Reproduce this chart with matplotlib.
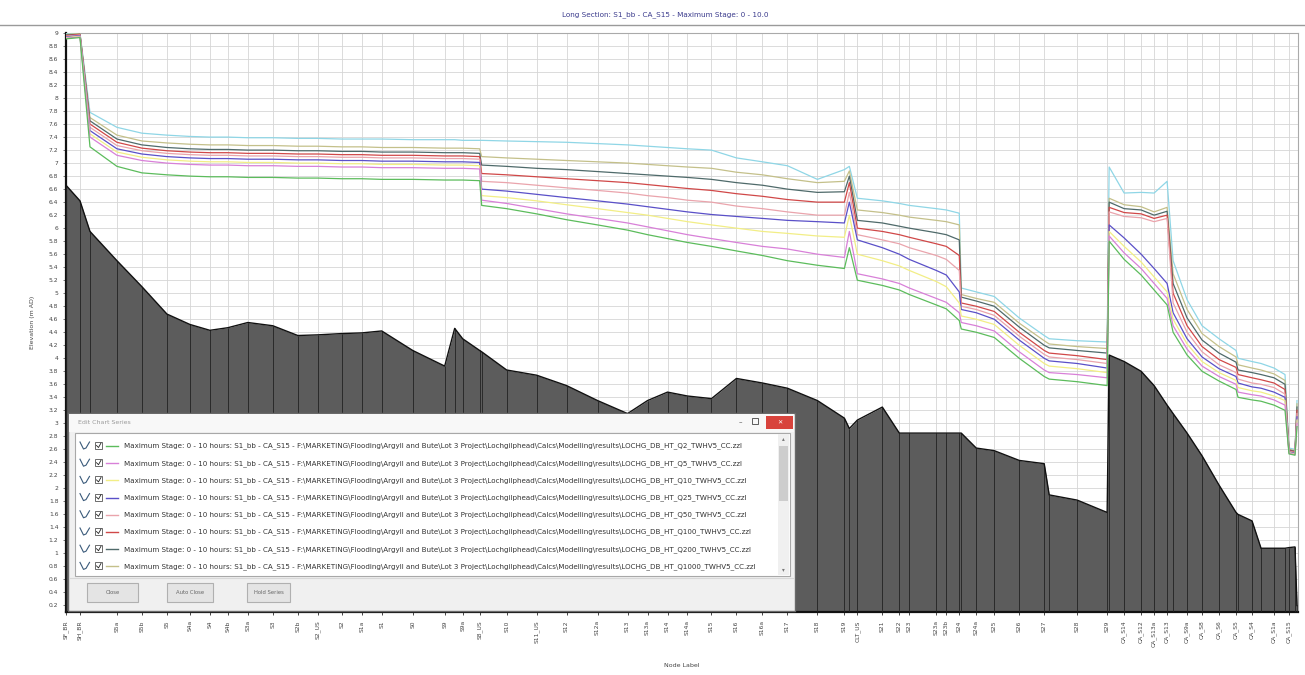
import matplotlib
matplotlib.use('Agg')
import matplotlib.pyplot as plt
from matplotlib.patches import Rectangle
from matplotlib.ticker import MultipleLocator, FuncFormatter

# ---------------- data ----------------
chainage = [0, 28, 48, 102, 152, 202, 248, 288, 324, 364, 414, 464, 504, 552, 592, 632, 694, 758, 778, 794,
            828, 832, 882, 942, 1002, 1064, 1124, 1164, 1204, 1244, 1292, 1342, 1394, 1444, 1504, 1558, 1568, 1584,
            1634, 1668, 1688, 1742, 1762, 1788, 1792, 1822, 1858, 1908, 1958, 1968, 2024, 2084, 2088, 2118, 2152,
            2178, 2204, 2216, 2244, 2274, 2308, 2342, 2346, 2374, 2392, 2418, 2440, 2448, 2460, 2464]

node_labels = ['SF_BR', 'SH_BR', '', 'S5a', 'S5b', 'S5', 'S4a', 'S4', 'S4b', 'S3a', 'S3', 'S2b', 'S2_US', 'S2',
               'S1a', 'S1', 'S0', 'S9', '', 'S9a', 'S8_US', '', 'S10', 'S11_US', 'S12', 'S12a', 'S13', 'S13a',
               'S14', 'S14a', 'S15', 'S16', 'S16a', 'S17', 'S18', 'S19', '', 'CLT_US', 'S21', 'S22', 'S23',
               'S23a', 'S23b', 'S24', '', 'S24a', 'S25', 'S26', 'S27', '', 'S28', 'S29', '', 'CA_S14', 'CA_S12',
               'CA_S13a', 'CA_S13', '', 'CA_S9a', 'CA_S8', 'CA_S6', 'CA_S5', '', 'CA_S4', '', 'CA_S1a', '',
               'CA_S15', '', '']

ground = [6.66, 6.42, 5.95, 5.5, 5.1, 4.68, 4.52, 4.43, 4.47, 4.55, 4.5, 4.35, 4.36, 4.38, 4.39, 4.42, 4.12,
          3.88, 4.46, 4.3, 4.12, 4.1, 3.82, 3.74, 3.58, 3.35, 3.15, 3.35, 3.48, 3.42, 3.38, 3.69, 3.62, 3.54,
          3.35, 3.08, 2.92, 3.05, 3.25, 2.85, 2.85, 2.85, 2.85, 2.85, 2.85, 2.62, 2.58, 2.43, 2.38, 1.9, 1.82,
          1.63, 4.05, 3.95, 3.8, 3.58, 3.28, 3.15, 2.85, 2.5, 2.05, 1.63, 1.6, 1.5, 1.08, 1.08, 1.08, 1.09,
          1.1, 0.2]

stage_cyan = [8.99, 9.0, 7.78, 7.55, 7.46, 7.43, 7.41, 7.40, 7.40, 7.39, 7.39, 7.38, 7.38, 7.37, 7.37, 7.37,
              7.36, 7.36, 7.36, 7.35, 7.35, 7.35, 7.34, 7.33, 7.32, 7.3, 7.28, 7.26, 7.24, 7.22, 7.2, 7.08,
              7.02, 6.96, 6.75, 6.9, 6.95, 6.46, 6.42, 6.38, 6.35, 6.3, 6.28, 6.23, 5.08, 5.02, 4.95, 4.62,
              4.35, 4.3, 4.27, 4.25, 6.94, 6.54, 6.55, 6.54, 6.72, 5.5, 4.9, 4.5, 4.3, 4.12, 4.0, 3.95, 3.92,
              3.85, 3.75, 2.62, 2.6, 3.35]
stage_olive = [8.98, 8.99, 7.7, 7.43, 7.34, 7.31, 7.29, 7.28, 7.28, 7.27, 7.27, 7.26, 7.26, 7.25, 7.25, 7.24,
               7.24, 7.23, 7.23, 7.23, 7.22, 7.1, 7.08, 7.06, 7.04, 7.02, 7.0, 6.98, 6.96, 6.94, 6.92, 6.86,
               6.82, 6.76, 6.7, 6.72, 6.88, 6.28, 6.24, 6.2, 6.17, 6.12, 6.1, 6.05, 4.98, 4.92, 4.86, 4.54,
               4.27, 4.22, 4.18, 4.15, 6.46, 6.36, 6.33, 6.25, 6.32, 5.3, 4.75, 4.38, 4.18, 4.02, 3.9, 3.85,
               3.82, 3.76, 3.66, 2.6, 2.58, 3.3]
stage_dark = [8.97, 8.98, 7.65, 7.37, 7.28, 7.24, 7.22, 7.21, 7.21, 7.2, 7.2, 7.19, 7.19, 7.18, 7.18, 7.17,
              7.17, 7.16, 7.16, 7.16, 7.15, 6.97, 6.95, 6.92, 6.9, 6.87, 6.84, 6.82, 6.8, 6.78, 6.75, 6.7,
              6.66, 6.6, 6.55, 6.56, 6.8, 6.12, 6.08, 6.03, 6.0, 5.93, 5.9, 5.82, 4.94, 4.88, 4.8, 4.48, 4.2,
              4.16, 4.12, 4.08, 6.4, 6.3, 6.28, 6.2, 6.26, 5.15, 4.62, 4.28, 4.08, 3.94, 3.82, 3.78, 3.75,
              3.7, 3.6, 2.59, 2.57, 3.25]
stage_red = [8.96, 8.98, 7.6, 7.32, 7.23, 7.19, 7.17, 7.16, 7.16, 7.15, 7.15, 7.14, 7.14, 7.13, 7.13, 7.12,
             7.12, 7.11, 7.11, 7.11, 7.1, 6.84, 6.82, 6.79, 6.76, 6.73, 6.7, 6.67, 6.64, 6.61, 6.58, 6.53,
             6.49, 6.44, 6.4, 6.4, 6.7, 6.0, 5.95, 5.9, 5.86, 5.76, 5.72, 5.58, 4.85, 4.8, 4.72, 4.4, 4.12,
             4.08, 4.04, 3.98, 6.32, 6.24, 6.22, 6.15, 6.2, 5.0, 4.5, 4.18, 3.98, 3.86, 3.75, 3.7, 3.67, 3.62,
             3.52, 2.58, 2.56, 3.2]
stage_pink = [8.95, 8.97, 7.55, 7.27, 7.19, 7.15, 7.13, 7.12, 7.12, 7.11, 7.11, 7.1, 7.1, 7.09, 7.09, 7.08,
              7.08, 7.07, 7.07, 7.07, 7.06, 6.72, 6.7, 6.66, 6.62, 6.58, 6.54, 6.5, 6.47, 6.43, 6.4, 6.34,
              6.3, 6.25, 6.2, 6.2, 6.55, 5.9, 5.82, 5.76, 5.7, 5.58, 5.52, 5.35, 4.8, 4.75, 4.66, 4.34, 4.06,
              4.02, 3.98, 3.92, 6.25, 6.18, 6.16, 6.1, 6.15, 4.85, 4.4, 4.1, 3.9, 3.78, 3.68, 3.62, 3.6, 3.55,
              3.45, 2.57, 2.55, 3.15]
stage_blue = [8.94, 8.96, 7.5, 7.22, 7.14, 7.1, 7.08, 7.07, 7.07, 7.06, 7.06, 7.05, 7.05, 7.04, 7.04, 7.03,
              7.03, 7.02, 7.02, 7.02, 7.01, 6.6, 6.57, 6.52, 6.47, 6.42, 6.37, 6.33, 6.29, 6.25, 6.21, 6.18,
              6.15, 6.12, 6.1, 6.08, 6.4, 5.82, 5.7, 5.6, 5.52, 5.35, 5.28, 5.02, 4.75, 4.7, 4.6, 4.28, 4.0,
              3.96, 3.92, 3.85, 6.05, 5.85, 5.6, 5.38, 5.15, 4.7, 4.3, 4.02, 3.84, 3.72, 3.62, 3.56, 3.54, 3.48,
              3.4, 2.56, 2.54, 3.1]
stage_yellow = [8.93, 8.95, 7.45, 7.17, 7.09, 7.05, 7.03, 7.02, 7.02, 7.01, 7.01, 7.0, 7.0, 6.99, 6.99, 6.98,
                6.98, 6.97, 6.97, 6.97, 6.96, 6.5, 6.47, 6.42, 6.36, 6.3, 6.24, 6.2, 6.15, 6.1, 6.05, 6.0, 5.95,
                5.92, 5.88, 5.86, 6.2, 5.6, 5.5, 5.42, 5.35, 5.18, 5.1, 4.85, 4.65, 4.6, 4.52, 4.2, 3.92, 3.88,
                3.84, 3.78, 5.95, 5.72, 5.48, 5.25, 5.02, 4.6, 4.22, 3.95, 3.78, 3.66, 3.55, 3.5, 3.48, 3.42,
                3.35, 2.55, 2.53, 3.05]
stage_magenta = [8.92, 8.94, 7.4, 7.12, 7.04, 7.0, 6.98, 6.97, 6.97, 6.96, 6.96, 6.95, 6.95, 6.94, 6.94, 6.93,
                 6.93, 6.92, 6.92, 6.92, 6.91, 6.43, 6.38, 6.3, 6.22, 6.15, 6.08, 6.02, 5.96, 5.9, 5.84, 5.78,
                 5.72, 5.68, 5.6, 5.55, 5.95, 5.3, 5.22, 5.15, 5.08, 4.92, 4.86, 4.7, 4.55, 4.5, 4.42, 4.1, 3.82,
                 3.78, 3.75, 3.7, 5.88, 5.62, 5.38, 5.15, 4.92, 4.5, 4.14, 3.88, 3.72, 3.6, 3.48, 3.44, 3.42,
                 3.36, 3.28, 2.54, 2.52, 3.0]
stage_green = [8.91, 8.93, 7.25, 6.95, 6.85, 6.82, 6.8, 6.79, 6.79, 6.78, 6.78, 6.77, 6.77, 6.76, 6.76, 6.75,
               6.75, 6.74, 6.74, 6.74, 6.73, 6.35, 6.3, 6.22, 6.13, 6.05, 5.97, 5.9, 5.84, 5.78, 5.72, 5.65,
               5.58, 5.5, 5.43, 5.38, 5.7, 5.2, 5.12, 5.05, 4.98, 4.82, 4.76, 4.58, 4.45, 4.4, 4.32, 4.0, 3.72,
               3.68, 3.64, 3.58, 5.8, 5.52, 5.28, 5.05, 4.82, 4.4, 4.05, 3.8, 3.65, 3.52, 3.4, 3.36, 3.34, 3.28,
               3.2, 2.53, 2.51, 2.95]

series = [stage_cyan, stage_olive, stage_dark, stage_red, stage_pink, stage_blue, stage_yellow,
          stage_magenta, stage_green]
series_colors = ['#8fd6e6', '#c4c08a', '#4f6a6a', '#d04848', '#eaa4ac', '#5a50c8', '#f2ee86', '#d880d8',
                 '#5cbc5c']

legend_events = ['Q2', 'Q5', 'Q10', 'Q25', 'Q50', 'Q100', 'Q200', 'Q1000']
legend_colors = ['#5cbc5c', '#d880d8', '#f2ee86', '#5a50c8', '#eaa4ac', '#d04848', '#4f6a6a', '#c4c08a']

title = 'Long Section: S1_bb - CA_S15 - Maximum Stage: 0 - 10.0'

# ---------------- figure ----------------
W, H = 1305, 675
fig = plt.figure(figsize=(W / 100, H / 100), dpi=100)
fig.patch.set_facecolor('white')

ax = fig.add_axes([66 / W, 1 - 612 / H, (1298 - 66) / W, (612 - 33) / H])
ybot, ytop = 0.1, 9.0
ax.set_xlim(0, 2466)
ax.set_ylim(ybot, ytop)

tick_pos = [c for c, l in zip(chainage, node_labels) if l]
tick_lab = [l for l in node_labels if l]
ax.set_xticks(tick_pos)
ax.set_xticklabels(tick_lab, rotation=90, fontsize=4.3, color='#444444')
ax.yaxis.set_major_locator(MultipleLocator(0.2))
ax.yaxis.set_major_formatter(FuncFormatter(lambda v, p: f'{round(v, 1):g}'))
ax.tick_params(axis='y', labelsize=4.3, colors='#444444', length=2, width=0.5)
ax.tick_params(axis='x', length=2, width=0.5, pad=4)
ax.grid(True, color='#d6d6d6', linewidth=0.6)
ax.set_axisbelow(True)

for s in ['left', 'bottom']:
    ax.spines[s].set_linewidth(1.6)
    ax.spines[s].set_color('#111111')
for s in ['top', 'right']:
    ax.spines[s].set_linewidth(0.8)
    ax.spines[s].set_color('#aaaaaa')

# ground profile
ax.fill_between(chainage, ground, ybot, color='#5c5c5c', zorder=2, linewidth=0)
ax.plot(chainage, ground, color='#111111', linewidth=1.0, zorder=4)
ax.vlines(chainage, ybot, ground, colors='#222222', linewidth=0.6, zorder=3)

# water levels
for vals, col in zip(series, series_colors):
    ax.plot(chainage, vals, color=col, linewidth=0.9, zorder=5)

ax.set_ylabel('Elevation (m AD)', fontsize=4.5, color='#444444', labelpad=10)
ax.set_xlabel('Node Label', fontsize=4.5, color='#444444', labelpad=12)
fig.text(665 / W, 1 - 15 / H, title, fontsize=5.2, color='#3a3a8c', ha='center', va='center')

# ---------------- overlay (dialog) ----------------
ov = fig.add_axes([0, 0, 1, 1], zorder=10)
ov.set_xlim(0, W)
ov.set_ylim(H, 0)
ov.axis('off')
ov.patch.set_alpha(0)

ov.plot([0, W], [25, 25], color='#9a9a9a', linewidth=1.0)

# dialog window
ov.add_patch(Rectangle((68, 413), 727, 198, facecolor='#f0f0f0', edgecolor='#6a6a6a', linewidth=1.0))
ov.add_patch(Rectangle((69, 414), 725, 18, facecolor='#f8f8f8', edgecolor='none'))
ov.text(78, 423, 'Edit Chart Series', fontsize=4.5, color='#9a9a9a', va='center')
ov.text(740, 422, '\u2013', fontsize=5, color='#444444', va='center', ha='center')
ov.add_patch(Rectangle((752, 418), 6, 6, facecolor='none', edgecolor='#444444', linewidth=0.6))
ov.add_patch(Rectangle((766, 416), 27, 13, facecolor='#d8433c', edgecolor='none'))
ov.text(779.5, 422.5, '\u2715', fontsize=4.5, color='white', va='center', ha='center')

# list box
ov.add_patch(Rectangle((75, 433), 715, 143, facecolor='white', edgecolor='#a8a8a8', linewidth=0.8))
ov.add_patch(Rectangle((778, 434), 11, 141, facecolor='#f0f0f0', edgecolor='none'))
ov.add_patch(Rectangle((779, 446), 9, 55, facecolor='#cdcdcd', edgecolor='none'))
ov.text(783.5, 439, '\u25b4', fontsize=4, color='#777777', ha='center', va='center')
ov.text(783.5, 570, '\u25be', fontsize=4, color='#777777', ha='center', va='center')

base = ('Maximum Stage: 0 - 10 hours: S1_bb - CA_S15 - F:\\MARKETING\\Flooding\\Argyll and Bute\\'
        'Lot 3 Project\\Lochgilphead\\Calcs\\Modelling\\results\\LOCHG_DB_HT_{}_TWHV5_CC.zzl')
for i, (ev, col) in enumerate(zip(legend_events, legend_colors)):
    y = 446 + 17.2 * i
    ov.plot([80, 83.5, 86, 89.5], [y - 4, y + 3, y + 2, y - 4], color='#3a5a7a', linewidth=0.8)
    ov.add_patch(Rectangle((95, y - 4), 7, 7, facecolor='white', edgecolor='#555555', linewidth=0.6))
    ov.plot([96.5, 98.5, 101], [y - 0.5, y + 1.5, y - 3], color='#222222', linewidth=0.6)
    ov.plot([106, 118], [y, y], color=col, linewidth=1.0)
    ov.text(124, y, base.format(ev), fontsize=5.1, color='#333333', va='center', ha='left')

# buttons
ov.plot([70, 793], [578, 578], color='#d8d8d8', linewidth=0.8)
for (bx, bw, lab) in [(87, 51, 'Close'), (167, 46, 'Auto Close'), (247, 43, 'Hold Series')]:
    ov.add_patch(Rectangle((bx, 583), bw, 19, facecolor='#e4e4e4', edgecolor='#b0b0b0', linewidth=0.8))
    ov.text(bx + bw / 2, 592.5, lab, fontsize=3.8, color='#666666', ha='center', va='center')

fig.savefig('out.png', dpi=100)
